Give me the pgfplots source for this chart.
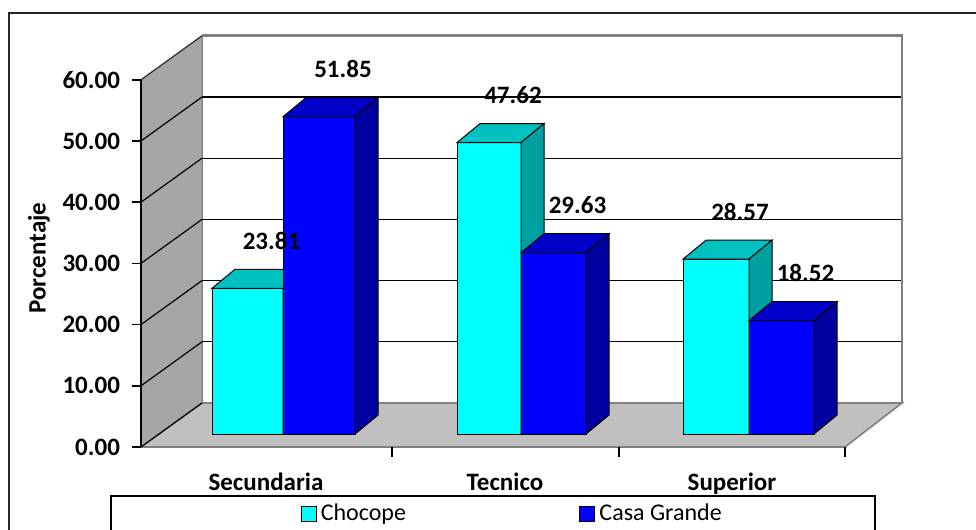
\documentclass[border=0pt]{standalone}
\usepackage{fontspec}
\setmainfont{Carlito}
\usepackage{pgfplots}
\pgfplotsset{compat=1.18}
\definecolor{cyanF}{RGB}{0,255,255}
\definecolor{cyanT}{RGB}{0,192,192}
\definecolor{cyanS}{RGB}{0,160,160}
\definecolor{blueF}{RGB}{0,0,255}
\definecolor{blueT}{RGB}{0,0,200}
\definecolor{blueS}{RGB}{0,0,160}
\definecolor{wallL}{RGB}{166,166,166}
\definecolor{floorC}{RGB}{192,192,192}
\definecolor{edgeG}{RGB}{128,128,128}
\newcommand{\valfont}{\bfseries\fontsize{12.5}{15}\selectfont}
% 3D bar: #1 left x, #2 right x, #3 value, #4 front, #5 top, #6 side colour
\newcommand{\tdbar}[6]{%
 \pgfmathsetmacro\xa{#1+23}%
 \pgfmathsetmacro\xb{#2+23}%
 \pgfmathsetmacro\yt{#3+3.1}%
 \edef\tmp{%
  \noexpand\addplot[fill=#4,draw=black,line width=0.5pt,forget plot] coordinates {(#1,0) (#2,0) (#2,#3) (#1,#3)} --cycle;%
  \noexpand\addplot[fill=#5,draw=black,line width=0.5pt,forget plot] coordinates {(#1,#3) (#2,#3) (\xb,\yt) (\xa,\yt)} --cycle;%
  \noexpand\addplot[fill=#6,draw=black,line width=0.5pt,forget plot] coordinates {(#2,0) (\xb,3.1) (\xb,\yt) (#2,#3)} --cycle;%
 }\tmp}
% value label: #1 left x, #2 right x, #3 value
\newcommand{\tdlabel}[3]{%
 \pgfmathsetmacro\yt{#3+3.1}%
 \pgfmathsetmacro\xl{(#1+#2)/2+24}%
 \edef\tmp{%
  \noexpand\node[anchor=base,font=\noexpand\valfont] at (axis cs:\xl,\yt) [yshift=10pt] {#3};%
 }\tmp}
\begin{document}
\begin{tikzpicture}
\useasboundingbox (0,0) rectangle (488pt,265pt);
\clip (0,0) rectangle (488pt,265pt);
\draw[line width=1pt, black!85] (4.5pt,258.5pt) rectangle (520pt,-20pt);
\begin{axis}[
 at={(70.5pt,41.5pt)}, anchor=south west,
 x=0.5pt, y=3.06pt,
 xmin=141, xmax=902, ymin=-2.12, ymax=57.88,
 clip=false, axis on top,
 axis x line=none, axis y line*=left,
 axis line style={black, line width=0.8pt},
 ytick={-2.12,7.88,17.88,27.88,37.88,47.88,57.88},
 yticklabels={0.00,10.00,20.00,30.00,40.00,50.00,60.00},
 yticklabel style={font=\valfont, xshift=-2.5pt},
 tick align=outside, major tick length=4.5pt,
 ytick style={black, line width=0.8pt},
 legend style={at={(axis cs:493,-9.97)}, anchor=north, draw=black, line width=0.8pt,
   legend columns=2, font=\fontsize{12}{14}\selectfont, inner xsep=74.75pt, inner ysep=2pt,
   /tikz/every even column/.append style={column sep=64.5pt}},
 legend image code/.code={\path[draw=none,fill=none] (-20.5pt,0pt) -- (0pt,0pt);\draw[#1,draw=black,line width=0.5pt] (0pt,-3.75pt) rectangle (7.5pt,3.75pt);},
]
% walls and floor
\addplot[fill=wallL, draw=edgeG, line width=0.5pt, forget plot] coordinates {(141,-2.12) (202,5.07) (202,65.07) (141,57.88)} --cycle;
\addplot[fill=white, draw=edgeG, line width=0.5pt, forget plot] coordinates {(202,5.07) (902,5.07) (902,65.07) (202,65.07)} --cycle;
\addplot[fill=floorC, draw=edgeG, line width=0.8pt, forget plot] coordinates {(141,-2.12) (845,-2.12) (902,5.07) (202,5.07)} --cycle;
% gridlines back wall
\addplot[black, line width=0.6pt, forget plot] coordinates {(202,15.07) (902,15.07)};
\addplot[black, line width=0.6pt, forget plot] coordinates {(202,25.07) (902,25.07)};
\addplot[black, line width=0.6pt, forget plot] coordinates {(202,35.07) (902,35.07)};
\addplot[black, line width=0.6pt, forget plot] coordinates {(202,45.07) (902,45.07)};
\addplot[black, line width=0.6pt, forget plot] coordinates {(202,55.07) (902,55.07)};
% gridlines left wall
\addplot[black, line width=0.6pt, forget plot] coordinates {(141,-2.12) (202,5.07)};
\addplot[black, line width=0.6pt, forget plot] coordinates {(141,7.88) (202,15.07)};
\addplot[black, line width=0.6pt, forget plot] coordinates {(141,17.88) (202,25.07)};
\addplot[black, line width=0.6pt, forget plot] coordinates {(141,27.88) (202,35.07)};
\addplot[black, line width=0.6pt, forget plot] coordinates {(141,37.88) (202,45.07)};
\addplot[black, line width=0.6pt, forget plot] coordinates {(141,47.88) (202,55.07)};
\addplot[black!80, line width=0.6pt, forget plot] coordinates {(141,57.88) (202,65.07)};
\addplot[edgeG, line width=1.3pt, forget plot] coordinates {(202,65.07) (902,65.07) (902,5.07)};
% category ticks
\addplot[black, line width=0.6pt, forget plot] coordinates {(392,-2.12) (392,-3.7)};
\addplot[black, line width=0.6pt, forget plot] coordinates {(619,-2.12) (619,-3.7)};
\addplot[black, line width=0.6pt, forget plot] coordinates {(845,-2.12) (845,-3.7)};
% bars
\tdbar{212}{283}{23.81}{cyanF}{cyanT}{cyanS}
\tdbar{283}{355}{51.85}{blueF}{blueT}{blueS}
\tdbar{457}{521}{47.62}{cyanF}{cyanT}{cyanS}
\tdbar{521}{586}{29.63}{blueF}{blueT}{blueS}
\tdbar{683}{749}{28.57}{cyanF}{cyanT}{cyanS}
\tdbar{749}{814}{18.52}{blueF}{blueT}{blueS}
\addlegendimage{fill=cyanF}
\addlegendentry{Chocope}
\addlegendimage{fill=blueF}
\addlegendentry{Casa Grande}
% value labels
\tdlabel{212}{283}{23.81}
\tdlabel{283}{355}{51.85}
\tdlabel{457}{521}{47.62}
\tdlabel{521}{586}{29.63}
\tdlabel{683}{749}{28.57}
\tdlabel{749}{814}{18.52}
% category and axis labels
\node[anchor=base, font=\valfont] at (axis cs:266,-9.15) {Secundaria};
\node[anchor=base, font=\valfont] at (axis cs:505,-9.15) {Tecnico};
\node[anchor=base, font=\valfont] at (axis cs:732,-9.15) {Superior};
\node[rotate=90, font=\valfont] at (axis cs:39,28.76) {Porcentaje};
\end{axis}
\end{tikzpicture}
\end{document}
